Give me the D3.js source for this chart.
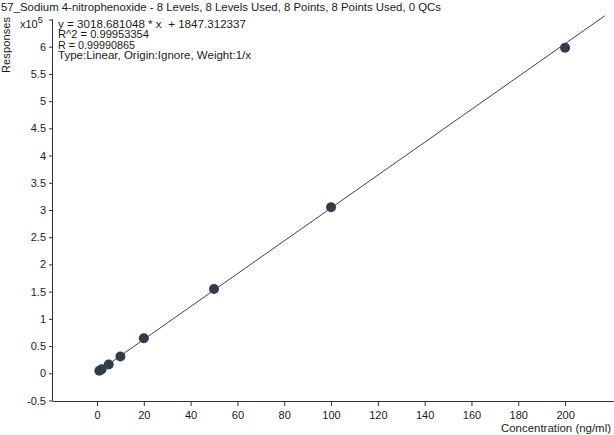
<!DOCTYPE html>
<html><head><meta charset="utf-8">
<script src="https://cdn.jsdelivr.net/npm/d3@7"></script>
<style>
body{margin:0;background:#fff;}
svg{display:block;font-family:"Liberation Sans",Arial,sans-serif;}
text{fill:#1a1a1a;white-space:pre;}
</style></head>
<body>
<svg id="c" width="614" height="435"></svg>
<script>
// Data
const concentrations = [1, 2, 5, 10, 20, 50, 100, 200];
const responses = [0.045, 0.075, 0.16, 0.31, 0.645, 1.55, 3.05, 5.98]; // x10^5
const fitSlope = [3018.681048];
const fitIntercept = [1847.312337];
const fitRange = [1, 217];
const xTicks = [0, 20, 40, 60, 80, 100, 120, 140, 160, 180, 200];
const yTicks = [-0.5, 0, 0.5, 1, 1.5, 2, 2.5, 3, 3.5, 4, 4.5, 5, 5.5, 6];
const titleText = "57_Sodium 4-nitrophenoxide - 8 Levels, 8 Levels Used, 8 Points, 8 Points Used, 0 QCs";
const infoLines = ["y = 3018.681048 * x  + 1847.312337", "R^2 = 0.99953354", "R = 0.99990865", "Type:Linear, Origin:Ignore, Weight:1/x"];
const xLabel = "Concentration (ng/ml)";
const yLabel = "Responses";

const svg = d3.select("#c");
const x = d3.scaleLinear().domain([-18.8, 220.9]).range([53, 614]);
const y = d3.scaleLinear().domain([-0.5, 6.5]).range([400.5, 19.5]);
const axisColor = "#333";
const fs = 11;
const fmt = d => String(d);

// X axis
const xAxis = svg.append("g").attr("transform", "translate(0,401)")
  .call(d3.axisBottom(x).tickValues(xTicks).tickSize(5).tickPadding(5).tickFormat(fmt));
xAxis.select(".domain").attr("stroke", axisColor).attr("d", "M53,0.5H614");
xAxis.selectAll(".tick line").attr("stroke", axisColor);
xAxis.selectAll("text").attr("font-size", fs).attr("font-family", "Liberation Sans, Arial, sans-serif").style("fill", "#1a1a1a");

// Y axis
const yAxis = svg.append("g").attr("transform", "translate(53,0)")
  .call(d3.axisLeft(y).tickValues(yTicks.concat([6.5])).tickSize(4).tickPadding(3)
    .tickFormat(d => d === 6.5 ? "" : fmt(d)));
yAxis.select(".domain").attr("stroke", axisColor).attr("d", "M-0.5," + y(6.5) + "V401");
yAxis.selectAll(".tick line").attr("stroke", axisColor);
yAxis.selectAll("text").attr("font-size", fs).attr("font-family", "Liberation Sans, Arial, sans-serif").style("fill", "#1a1a1a");

// x10^5 label
const mult = svg.append("text").attr("x", 20).attr("y", 28).attr("font-size", fs);
mult.append("tspan").text("x10");
mult.append("tspan").attr("dy", -5).attr("font-size", 9).text("5");

// Y label
svg.append("text").attr("transform", "translate(10,45) rotate(-90)")
  .attr("text-anchor", "middle").attr("font-size", fs)
  .attr("textLength", 56).attr("lengthAdjust", "spacing").text(yLabel);

// X label
svg.append("text").attr("x", 501).attr("y", 432)
  .attr("font-size", fs).attr("textLength", 110).attr("lengthAdjust", "spacingAndGlyphs").text(xLabel);

// Title
svg.append("text").attr("x", 1).attr("y", 11).attr("font-size", fs)
  .attr("textLength", 440).attr("lengthAdjust", "spacingAndGlyphs").text(titleText);

// Info lines
const infoWidths = [188, 91, 77, 193];
infoLines.forEach((t, i) => {
  svg.append("text").attr("x", 58).attr("y", 27.5 + i * 10.6).attr("font-size", 10)
    .attr("xml:space", "preserve")
    .attr("textLength", infoWidths[i]).attr("lengthAdjust", "spacingAndGlyphs").text(t);
});

// Regression line
const line = d3.line().x(d => x(d)).y(d => y((fitSlope[0] * d + fitIntercept[0]) / 1e5));
svg.append("path").datum(fitRange).attr("d", line)
  .attr("fill", "none").attr("stroke", "#3a4450").attr("stroke-width", 1);

// Points
svg.append("g").selectAll("circle").data(concentrations).join("circle")
  .attr("cx", (d) => x(d)).attr("cy", (d, i) => y(responses[i])).attr("r", 5)
  .attr("fill", "#333d48");
</script>
</body></html>
